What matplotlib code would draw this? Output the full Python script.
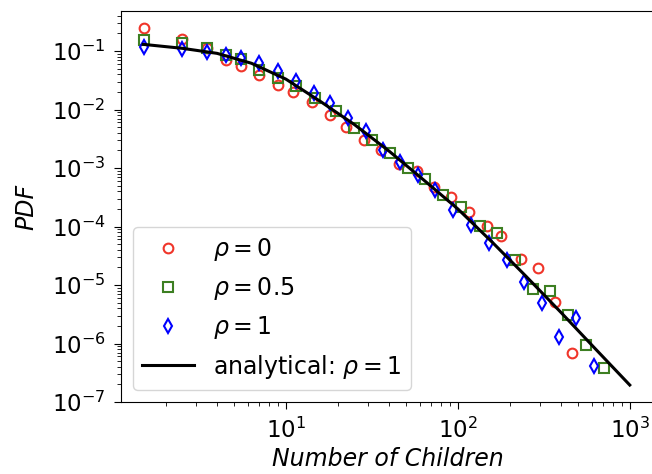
import matplotlib
matplotlib.use("Agg")
import matplotlib.pyplot as plt

# rho = 0
x_r0 = [1.49, 2.49, 3.47, 4.48, 5.52, 7.0, 8.98, 11.0, 14.1, 18.0, 22.5, 28.5,
        35.6, 45.4, 58, 72.8, 91.8, 116, 148, 179, 232, 293, 367, 464]
y_r0 = [0.244, 0.158, 0.112, 0.070, 0.0555, 0.039, 0.0263, 0.0197, 0.0133,
        8.05e-3, 5.08e-3, 3.01e-3, 2.03e-3, 1.17e-3, 8.9e-4, 4.68e-4, 3.16e-4,
        1.79e-4, 1.02e-4, 6.8e-5, 2.75e-5, 1.93e-5, 5.06e-6, 6.8e-7]

# rho = 0.5
x_r05 = [1.49, 2.5, 3.49, 4.48, 5.52, 7.0, 8.98, 11.4, 14.8, 19.5, 24.9, 31.9,
         40.2, 51, 64.3, 82.2, 105, 134, 169, 214, 272, 346, 438, 555, 706]
y_r05 = [0.154, 0.135, 0.111, 0.0855, 0.0721, 0.0473, 0.0341, 0.0252, 0.0155,
         9.4e-3, 4.78e-3, 3.01e-3, 1.78e-3, 9.9e-4, 6.4e-4, 3.45e-4, 2.18e-4,
         1.02e-4, 7.7e-5, 2.67e-5, 8.4e-6, 8.0e-6, 3.07e-6, 9.4e-7, 3.77e-7]

# rho = 1
x_r1 = [1.49, 2.49, 3.47, 4.48, 5.52, 7.0, 8.98, 11.5, 14.6, 18.0, 23.0, 29.4,
        36.5, 46, 58.8, 73.4, 94, 120, 152, 192, 243, 309, 386, 490, 618]
y_r1 = [0.119, 0.107, 0.0973, 0.0855, 0.0750, 0.0631, 0.046, 0.031, 0.0194,
        0.0128, 7.1e-3, 4.35e-3, 2.03e-3, 1.28e-3, 7.6e-4, 4.2e-4, 1.91e-4,
        1.06e-4, 5.2e-5, 2.67e-5, 1.14e-5, 4.86e-6, 1.31e-6, 2.7e-6, 4.1e-7]

# analytical curve, rho = 1
x_an = [1.48, 2.51, 3.98, 6.31, 10, 15.85, 25.1, 39.8, 63.1, 100, 158.5, 251,
        398, 631, 1000]
y_an = [0.130, 0.111, 0.0912, 0.0617, 0.0331, 0.0138, 0.0055, 1.95e-3, 6.3e-4,
        2.0e-4, 5.4e-5, 1.38e-5, 3.4e-6, 8.1e-7, 1.95e-7]

fig = plt.figure(figsize=(6.52, 4.74), dpi=100)
ax = fig.add_axes([0.1856, 0.1519, 0.8175, 0.8249])

ax.plot(x_r0, y_r0, 'o', mfc='none', mec='#f0352a', mew=1.5, ms=7, label=r'$\rho = 0$')
ax.plot(x_r05, y_r05, 's', mfc='none', mec='#3d7f22', mew=1.5, ms=7, label=r'$\rho = 0.5$')
ax.plot(x_r1, y_r1, 'd', mfc='none', mec='#0000ff', mew=1.5, ms=7, label=r'$\rho = 1$')
ax.plot(x_an, y_an, '-', color='black', lw=2.2, label=r'analytical: $\rho = 1$')

ax.set_xscale('log')
ax.set_yscale('log')
ax.set_xlim(1.10, 1384)
ax.set_ylim(1e-7, 0.483)

ax.tick_params(which='major', labelsize=16.5, length=5, pad=6)
ax.tick_params(which='minor', length=3)
ax.set_xlabel('Number of Children', fontsize=17, style='italic', labelpad=3)
ax.set_ylabel('PDF', fontsize=17, style='italic', labelpad=10)

ax.legend(loc='lower left', fontsize=17, handlelength=2.2)

fig.savefig('out.png', dpi=100)
